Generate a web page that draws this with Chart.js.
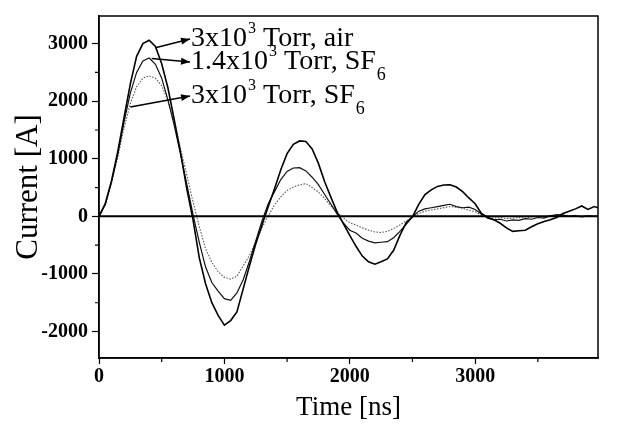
<!DOCTYPE html>
<html>
<head>
<meta charset="utf-8">
<script src="https://cdn.jsdelivr.net/npm/chart.js@4.4.1/dist/chart.umd.min.js"></script>
<style>
  html, body { margin: 0; padding: 0; background: #fff; }
</style>
</head>
<body>
<canvas id="current-chart" width="622" height="430"></canvas>
<script>
// time axis in ns
const times = [0, 50, 100, 150, 200, 250, 300, 350, 400, 450, 500, 550, 600, 650, 700, 750, 800, 850, 900, 950,
  1000, 1050, 1100, 1150, 1200, 1250, 1300, 1350, 1400, 1450, 1500, 1550, 1600, 1650, 1700, 1750, 1800, 1850, 1900, 1950,
  2000, 2050, 2100, 2150, 2200, 2250, 2300, 2350, 2400, 2450, 2500, 2550, 2600, 2650, 2700, 2750, 2800, 2850, 2900, 2950,
  3000, 3050, 3100, 3150, 3200, 3250, 3300, 3350, 3400, 3450, 3500, 3550, 3600, 3650, 3700, 3750, 3800, 3850, 3900, 3950, 3980];

// 3x10^3 Torr, air
const airCurrent = [0, 220, 620, 1130, 1720, 2300, 2780, 3000, 3060, 2950, 2650, 2230, 1680, 1110, 480, -60, -720, -1170, -1500, -1720,
  -1890, -1810, -1660, -1260, -860, -480, -150, 170, 480, 810, 1090, 1250, 1310, 1300, 1170, 920, 600, 330, 70, -130,
  -330, -520, -690, -790, -830, -790, -740, -590, -330, -110, -10, 210, 380, 460, 520, 545, 550, 510, 430, 320,
  220, 50, -20, -60, -120, -200, -260, -250, -240, -180, -130, -90, -60, -20, 50, 90, 130, 180, 120, 170, 150];

// 1.4x10^3 Torr, SF6
const sf6LowCurrent = [0, 210, 600, 1080, 1640, 2140, 2500, 2700, 2750, 2640, 2400, 2020, 1580, 1080, 560, 30, -450, -880, -1150, -1300,
  -1430, -1460, -1330, -1100, -780, -430, -80, 220, 430, 640, 780, 840, 845, 790, 680, 550, 380, 210, 40, -120,
  -240, -290, -380, -430, -460, -450, -440, -370, -260, -140, -10, 90, 130, 150, 170, 190, 210, 170, 150, 160,
  120, 40, -30, -60, -50, -80, -60, -70, -40, -50, -20, -30, 10, 30, 20, 0, 10, -10, 10, 0, 0];

// 3x10^3 Torr, SF6
const sf6HighCurrent = [0, 200, 580, 1030, 1540, 1960, 2250, 2400, 2440, 2400, 2270, 2010, 1650, 1180, 720, 250, -180, -560, -800, -960,
  -1060, -1090, -1040, -860, -680, -440, -200, 10, 200, 340, 450, 510, 545, 570, 500, 420, 310, 180, 70, -30,
  -110, -150, -200, -240, -270, -280, -260, -210, -150, -80, -10, 50, 90, 110, 130, 150, 170, 160, 140, 110,
  80, 20, -10, -30, -20, -40, -30, -20, -30, -10, 0, -10, 20, 10, 30, 10, 20, 0, 10, 0, 10];

const xTicks = [0, 1000, 2000, 3000];
const xMinor = [500, 1500, 2500, 3500];
const yTicks = [-2000, -1000, 0, 1000, 2000, 3000];
const yMinor = [-1500, -500, 500, 1500, 2500];

// labels with arrows: tail on the curve, head at the text (data units)
const notes = [
  { main: "3x10", sup: "3", rest: " Torr, air", sub: "", tail: [450, 2930], head: [726, 3080] },
  { main: "1.4x10", sup: "3", rest: " Torr, SF", sub: "6", tail: [420, 2740], head: [726, 2680] },
  { main: "3x10", sup: "3", rest: " Torr, SF", sub: "6", tail: [250, 1900], head: [726, 2090] }
];

function pairs(values) {
  return times.map((t, i) => ({ x: t, y: values[i] }));
}

const serif = "'Liberation Serif', 'Times New Roman', serif";

const framePlugin = {
  id: "frame",
  afterDatasetsDraw(chart) {
    const ctx = chart.ctx;
    const area = chart.chartArea;
    const y0 = chart.scales.y.getPixelForValue(0);
    ctx.save();
    ctx.strokeStyle = "#000";
    ctx.lineWidth = 2;
    ctx.beginPath();
    ctx.moveTo(area.left, y0);
    ctx.lineTo(area.right, y0);
    ctx.stroke();
    ctx.lineWidth = 1.5;
    ctx.strokeRect(area.left, area.top, area.right - area.left, area.bottom - area.top);
    // minor ticks
    ctx.lineWidth = 1.2;
    ctx.beginPath();
    xMinor.forEach(v => {
      const px = chart.scales.x.getPixelForValue(v);
      ctx.moveTo(px, area.bottom);
      ctx.lineTo(px, area.bottom + 4);
    });
    yMinor.forEach(v => {
      const py = chart.scales.y.getPixelForValue(v);
      ctx.moveTo(area.left, py);
      ctx.lineTo(area.left - 4, py);
    });
    ctx.stroke();
    ctx.restore();
  }
};

const notePlugin = {
  id: "notes",
  afterDraw(chart) {
    const ctx = chart.ctx;
    const xs = chart.scales.x, ys = chart.scales.y;
    ctx.save();
    ctx.fillStyle = "#000";
    ctx.strokeStyle = "#000";
    notes.forEach(n => {
      const tx = xs.getPixelForValue(n.tail[0]), ty = ys.getPixelForValue(n.tail[1]);
      const hx = xs.getPixelForValue(n.head[0]), hy = ys.getPixelForValue(n.head[1]);
      ctx.lineWidth = 1.5;
      ctx.beginPath();
      ctx.moveTo(tx, ty);
      ctx.lineTo(hx, hy);
      ctx.stroke();
      const a = Math.atan2(hy - ty, hx - tx);
      ctx.beginPath();
      ctx.moveTo(hx, hy);
      ctx.lineTo(hx - 9 * Math.cos(a) + 3.5 * Math.sin(a), hy - 9 * Math.sin(a) - 3.5 * Math.cos(a));
      ctx.lineTo(hx - 9 * Math.cos(a) - 3.5 * Math.sin(a), hy - 9 * Math.sin(a) + 3.5 * Math.cos(a));
      ctx.closePath();
      ctx.fill();

      let x = hx + 1;
      const base = hy + 7;
      ctx.textBaseline = "alphabetic";
      ctx.textAlign = "left";
      ctx.font = "28px " + serif;
      ctx.fillText(n.main, x, base);
      x += ctx.measureText(n.main).width;
      ctx.font = "16px " + serif;
      ctx.fillText(n.sup, x + 1, base - 13);
      x += ctx.measureText(n.sup).width + 1;
      ctx.font = "28px " + serif;
      ctx.fillText(n.rest, x, base);
      x += ctx.measureText(n.rest).width;
      if (n.sub) {
        ctx.font = "18px " + serif;
        ctx.fillText(n.sub, x + 1, base + 11);
      }
    });
    ctx.restore();
  }
};

const chart = new Chart(document.getElementById("current-chart").getContext("2d"), {
  type: "line",
  data: {
    datasets: [
      { label: "3x10^3 Torr, air", data: pairs(airCurrent), borderColor: "#000", borderWidth: 1.6 },
      { label: "1.4x10^3 Torr, SF6", data: pairs(sf6LowCurrent), borderColor: "#111", borderWidth: 1.2 },
      { label: "3x10^3 Torr, SF6", data: pairs(sf6HighCurrent), borderColor: "#555", borderWidth: 1.1, borderDash: [1.5, 1.5] }
    ]
  },
  options: {
    responsive: false,
    animation: false,
    layout: { padding: { top: 10, right: 24, left: 0, bottom: 0 } },
    elements: { point: { radius: 0 }, line: { tension: 0 } },
    plugins: { legend: { display: false }, tooltip: { enabled: false } },
    scales: {
      x: {
        type: "linear",
        min: 0,
        max: 3980,
        afterBuildTicks: axis => { axis.ticks = xTicks.map(v => ({ value: v })); },
        afterFit: axis => { axis.height = 72; },
        ticks: {
          autoSkip: false,
          maxRotation: 0,
          padding: 1,
          color: "#000",
          font: { family: serif, size: 20, weight: "bold" },
          callback: v => String(v)
        },
        grid: { drawOnChartArea: false, tickLength: 6, color: "#000", tickWidth: 1.2 },
        border: { color: "#000", width: 1.5 },
        title: {
          display: true,
          text: "Time [ns]",
          color: "#000",
          font: { family: serif, size: 27 },
          padding: { top: 0, bottom: 6 }
        }
      },
      y: {
        min: -2460,
        max: 3480,
        afterBuildTicks: axis => { axis.ticks = yTicks.map(v => ({ value: v })); },
        afterFit: axis => { axis.width = 99; },
        ticks: {
          autoSkip: false,
          padding: 4,
          color: "#000",
          font: { family: serif, size: 20, weight: "bold" },
          callback: v => String(v)
        },
        grid: { drawOnChartArea: false, tickLength: 7, color: "#000", tickWidth: 1.2 },
        border: { color: "#000", width: 1.5 },
        title: {
          display: true,
          text: "Current [A]",
          color: "#000",
          font: { family: serif, size: 31 },
          padding: { top: 10, bottom: 0 }
        }
      }
    }
  },
  plugins: [framePlugin, notePlugin]
});
</script>
</body>
</html>
